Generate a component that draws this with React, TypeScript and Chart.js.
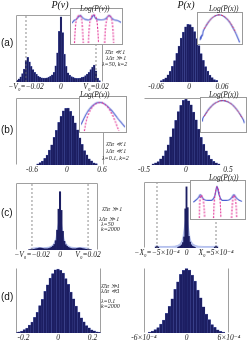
import React, { useEffect, useRef } from "react";
import { Chart, registerables } from "chart.js";
Chart.register(...registerables);

const SERIF = "'Liberation Serif','DejaVu Serif',serif";
const SANS = "'Liberation Sans','DejaVu Sans',sans-serif";
const NAVY = "#1c1e62";
const EDGE = "#5563b5";
const FRAME = "#a0a0a0";
const BLUE = "#4a5fd0";
const MAGENTA = "#e0208c";
const RED = "#e02050";

// ---------- (a) left : P(v), lambda=50, k=2 ----------
const aLeftStart = -0.025;
const aLeftStep = 0.001;
const aLeftValues = [3, 5, 8, 13, 20, 33, 38, 31, 24, 19, 15, 12, 9, 7.5, 6.5, 6, 6, 6.5, 7.5, 9, 11, 15, 25, 45, 78, 100, 76, 43, 24, 14, 10.5, 8.5, 7, 6, 5.5, 5.5, 6, 7, 8, 10, 12, 15, 19, 23, 26, 17, 6, 2];
const aLeftTicks = [-0.02, 0, 0.02];
const aLeftTickLabels = ["−V₀=−0.02", "0", "V₀=0.02"];
const aLeftDashed = [-0.02, 0.02];

// ---------- (a) right : P(x) ----------
const aRightStart = -0.05;
const aRightStep = 0.004;
const aRightValues = [2.5, 4.6, 7.4, 12.3, 18.2, 27.1, 36.8, 49.6, 61.8, 75.5, 85.9, 95.2, 99.6, 98.9, 94.6, 86.8, 74.7, 62.6, 48.9, 37.5, 26.4, 18.8, 11.9, 7.8, 4.3, 2.7];
const aRightTicks = [-0.06, 0, 0.06];
const aRightTickLabels = ["-0.06", "0", "0.06"];

// ---------- (b) left ----------
const bLeftStart = -0.5;
const bLeftStep = 0.04;
const bLeftValues = [2.1, 4.3, 6.8, 11.6, 17.2, 26.1, 35.4, 48.7, 60.8, 74.9, 85.3, 95.1, 99.2, 99.7, 94.2, 86.4, 73.8, 61.7, 47.6, 36.3, 25.2, 17.8, 10.9, 7.2, 3.9, 2.4];
const bLeftTicks = [-0.6, 0, 0.6];
const bLeftTickLabels = ["-0.6", "0", "0.6"];

// ---------- (b) right ----------
const bRightStart = -0.39;
const bRightStep = 0.03;
const bRightValues = [1.6, 3.4, 5.3, 9.4, 14.0, 21.9, 30.5, 42.6, 55.3, 67.6, 81.0, 90.3, 97.9, 100, 97.2, 91.1, 80.2, 68.5, 54.6, 42.0, 31.2, 21.3, 14.6, 8.9, 5.7, 3.1, 1.8];
const bRightTicks = [-0.5, 0, 0.5];
const bRightTickLabels = ["-0.5", "0", "0.5"];

// ---------- (c) left ----------
const cLeftStart = -0.022;
const cLeftStep = 0.001;
const cLeftValues = [0.5, 0.8, 1.0, 1.2, 1.5, 2.0, 2.6, 3.2, 3.5, 3.0, 2.4, 2.0, 1.8, 2.0, 2.6, 3.4, 4.8, 6.5, 9.5, 16, 34, 70, 100, 68, 32, 15, 9, 6.2, 4.5, 3.3, 2.5, 2.0, 1.8, 2.0, 2.5, 3.1, 3.4, 3.0, 2.5, 1.9, 1.5, 1.2, 1.0, 0.7, 0.4];
const cLeftEnvX = [-0.021, -0.016, -0.012, -0.008, -0.005, -0.003, -0.0015, 0, 0.0015, 0.003, 0.005, 0.008, 0.012, 0.016, 0.021];
const cLeftEnvY = [3, 4.5, 4, 5, 9, 20, 42, 55, 40, 19, 9, 5, 4, 4.5, 3];
const cLeftTicks = [-0.02, 0, 0.02];
const cLeftTickLabels = ["−V₀=−0.02", "0", "V₀=0.02"];
const cLeftDashed = [-0.02, 0.02];

// ---------- (c) right ----------
const cRightX = [-5.2e-4, -5.0e-4, -4.8e-4, -1.4e-4, -1.2e-4, -1.0e-4, -8e-5, -6e-5, -4e-5, -2e-5, 0, 2e-5, 4e-5, 6e-5, 8e-5, 1.0e-4, 1.2e-4, 1.4e-4, 4.8e-4, 5.0e-4, 5.2e-4];
const cRightValues = [1.5, 3, 1.5, 1.3, 2.1, 3.2, 5.0, 9.0, 18, 64, 100, 66, 19, 9.5, 5.2, 3.0, 2.0, 1.2, 1.5, 3, 1.5];
const cRightEnvX = [-5.4e-4, -4e-4, -2e-4, -1.2e-4, -7e-5, -3.5e-5, 0, 3.5e-5, 7e-5, 1.2e-4, 2e-4, 4e-4, 5.4e-4];
const cRightEnvY = [3, 2.5, 3, 6, 14, 35, 50, 33, 13, 6, 3, 2.5, 3];
const cRightTicks = [-5e-4, 0, 5e-4];
const cRightTickLabels = ["−X₀=−5×10⁻⁴", "0", "X₀=5×10⁻⁴"];
const cRightDashed = [-5e-4, 5e-4];

// ---------- (d) left ----------
const dLeftStart = -0.24;
const dLeftStep = 0.015;
const dLeftValues = [1.0, 2.0, 3.1, 5.3, 7.8, 12.2, 16.9, 24.4, 32.1, 42.8, 52.6, 64.9, 75.1, 85.8, 92.7, 98.6, 100, 98.0, 93.5, 85.1, 75.9, 63.8, 53.4, 41.9, 32.8, 23.8, 17.5, 11.6, 8.2, 4.9, 3.3, 1.8, 1.2];
const dLeftTicks = [-0.2, 0, 0.2];
const dLeftTickLabels = ["-0.2", "0", "0.2"];

// ---------- (d) right ----------
const dRightStart = -5.2e-4;
const dRightStep = 4e-5;
const dRightValues = [1.4, 3.0, 5.2, 8.3, 13.8, 20.1, 30.4, 41.6, 53.2, 67.9, 79.4, 91.2, 97.3, 100, 97.8, 90.1, 80.6, 66.8, 54.5, 40.7, 29.5, 21.0, 13.2, 8.7, 4.8, 2.7, 1.6];
const dRightTicks = [-6e-4, 0, 6e-4];
const dRightTickLabels = ["-6×10⁻⁴", "0", "6×10⁻⁴"];

// ---------- insets ----------
const aLeftInBlueX = [-1, -0.92, -0.84, -0.76, -0.66, -0.56, -0.45, -0.3, -0.2, -0.12, -0.04, 0.06, 0.2, 0.34, 0.44, 0.52, 0.6, 0.72, 0.86, 1];
const aLeftInBlueY = [0.6, 0.68, 0.71, 0.77, 0.84, 0.76, 0.71, 0.7, 0.75, 0.85, 0.75, 0.71, 0.7, 0.72, 0.79, 0.84, 0.77, 0.7, 0.68, 0.62];
const aLeftInMagX = [-0.9, -0.86, -0.8, -0.7, -0.62, -0.58, -0.54, -0.54, -0.33, -0.29, -0.22, -0.12, -0.02, 0.04, 0.08, 0.08, 0.33, 0.37, 0.44, 0.52, 0.6, 0.66, 0.7];
const aLeftInMagY = [0, 0.5, 0.76, 0.84, 0.76, 0.5, 0, null, 0, 0.5, 0.78, 0.86, 0.78, 0.5, 0, null, 0, 0.5, 0.76, 0.84, 0.76, 0.5, 0];

const aRightInBlueX = [-0.95, -0.92, -0.9, -0.87, -0.84, -0.8, -0.7, -0.55, -0.4, -0.25, -0.1, 0, 0.1, 0.25, 0.4, 0.55, 0.7, 0.8, 0.88, 0.93];
const aRightInBlueY = [0.1, 0.22, 0.16, 0.27, 0.25, 0.41, 0.55, 0.72, 0.85, 0.93, 0.967, 0.967, 0.95, 0.88, 0.77, 0.61, 0.41, 0.26, 0.12, 0.02];
const aRightInRedX = [-0.75, -0.6, -0.45, -0.3, -0.15, 0, 0.15, 0.3, 0.45, 0.6, 0.75];
const aRightInRedY = [0.49, 0.67, 0.81, 0.91, 0.96, 0.97, 0.94, 0.86, 0.74, 0.57, 0.36];

const bLeftInBlueX = [-1, -0.85, -0.7, -0.55, -0.4, -0.25, -0.1, 0.05, 0.2, 0.35, 0.5, 0.65, 0.8, 0.95, 1];
const bLeftInBlueY = [0.19, 0.41, 0.585, 0.72, 0.81, 0.86, 0.868, 0.83, 0.755, 0.65, 0.53, 0.4, 0.28, 0.16, 0.12];
const bLeftInMagX = [-0.85, -0.78, -0.7, -0.55, -0.4, -0.25, -0.1, 0.05, 0.2, 0.35, 0.5, 0.62, 0.72];
const bLeftInMagY = [0, 0.25, 0.45, 0.66, 0.79, 0.85, 0.86, 0.82, 0.73, 0.58, 0.38, 0.18, 0];

const bRightInBlueX = [-0.98, -0.96, -0.85, -0.7, -0.55, -0.4, -0.25, -0.1, 0.05, 0.2, 0.35, 0.5, 0.65, 0.8, 0.92, 0.97];
const bRightInBlueY = [0.3, 0.4, 0.52, 0.67, 0.78, 0.87, 0.92, 0.95, 0.945, 0.91, 0.85, 0.76, 0.64, 0.49, 0.35, 0.25];
const bRightInRedX = [-0.9, -0.75, -0.6, -0.45, -0.3, -0.15, 0, 0.15, 0.3, 0.45, 0.6, 0.75, 0.9];
const bRightInRedY = [0.46, 0.61, 0.74, 0.84, 0.9, 0.94, 0.95, 0.93, 0.87, 0.79, 0.68, 0.54, 0.38];

const cRightInBlueX = [-0.95, -0.85, -0.76, -0.68, -0.6, -0.5, -0.35, -0.22, -0.12, -0.04, 0.04, 0.14, 0.28, 0.42, 0.52, 0.61, 0.7, 0.8, 0.92];
const cRightInBlueY = [0.44, 0.5, 0.56, 0.65, 0.56, 0.5, 0.49, 0.5, 0.62, 0.88, 0.64, 0.5, 0.49, 0.5, 0.56, 0.65, 0.56, 0.5, 0.46];
const cRightInMagX = [-0.72, -0.7, -0.66, -0.6, -0.55, -0.51, -0.51, -0.17, -0.13, -0.04, 0.04, 0.08, 0.11, 0.11, 0.52, 0.56, 0.61, 0.67, 0.7, 0.72];
const cRightInMagY = [0, 0.45, 0.63, 0.58, 0.4, 0, null, 0, 0.55, 0.86, 0.72, 0.45, 0, null, 0, 0.45, 0.63, 0.5, 0.3, 0];

// ---------- texts ----------
const panelLetters = [
  { t: "(a)", top: 37 },
  { t: "(b)", top: 124 },
  { t: "(c)", top: 207 },
  { t: "(d)", top: 291 },
];
const noteLines = [
  { t: "λ̄Δτ ≪ 1", l: 105, top: 49 },
  { t: "λΔτ ≫ 1", l: 106, top: 55 },
  { t: "λ=50, k=2", l: 102, top: 61 },
  { t: "λ̄Δτ ≪ 1", l: 106, top: 141 },
  { t: "λΔτ ≪ 1", l: 106, top: 148 },
  { t: "λ=0.1, k=2", l: 102, top: 155 },
  { t: "λ̄Δτ ≫ 1", l: 102, top: 206 },
  { t: "λΔτ ≫ 1", l: 99, top: 216 },
  { t: "λ=50", l: 101, top: 221 },
  { t: "k=2000", l: 101, top: 226 },
  { t: "λ̄Δτ ≫1", l: 101, top: 283 },
  { t: "λΔτ ≪1", l: 101, top: 288 },
  { t: "λ=0.1", l: 101, top: 298 },
  { t: "k=2000", l: 101, top: 303 },
];
const insetTitles = [
  { t: "Log(P(v))", l: 80, top: 4 },
  { t: "Log(P(x))", l: 209, top: 4 },
  { t: "Log(P(v))", l: 80, top: 90 },
  { t: "Log(P(x))", l: 209, top: 90 },
  { t: "Log(P(x))", l: 209, top: 173 },
];

// ---------- helpers ----------
const toBars = (start: number, step: number, vals: number[]) => vals.map((v, i) => ({ x: start + i * step, y: v }));
const zipXY = (xs: number[], ys: (number | null)[]) => xs.map((x, i) => ({ x, y: ys[i] }));

const boxFrame = {
  id: "boxFrame",
  afterDraw(chart: any, _a: any, opts: any) {
    const sides: string = opts && opts.sides ? opts.sides : "";
    if (!sides) return;
    const { left, right, top, bottom } = chart.chartArea;
    const ctx = chart.ctx;
    ctx.save();
    ctx.strokeStyle = FRAME;
    ctx.lineWidth = 1;
    ctx.beginPath();
    const L = Math.round(left) + 0.5, R = Math.round(right) - 0.5, T = Math.round(top) + 0.5, B = Math.round(bottom) - 0.5;
    if (sides.includes("t")) { ctx.moveTo(L, T); ctx.lineTo(R, T); }
    if (sides.includes("l")) { ctx.moveTo(L, T); ctx.lineTo(L, B); }
    if (sides.includes("r")) { ctx.moveTo(R, T); ctx.lineTo(R, B); }
    ctx.stroke();
    ctx.restore();
  },
};

const PADX = 24;
const PADT = 2;
const AXH = 11;

type Panel = {
  boxL: number; boxT: number; boxW: number; boxH: number;
  xMin: number; xMax: number; yMax: number;
  ticks: number[]; labels: string[];
  bars: { x: number; y: number }[];
  dashed?: number[];
  env?: { x: number; y: number }[];
  sides: string;
  bw?: any;
};

function mainConfig(p: Panel): any {
  const datasets: any[] = [
    {
      type: "bar",
      data: p.bars,
      backgroundColor: NAVY,
      borderColor: EDGE,
      borderWidth: p.bw !== undefined ? p.bw : { left: 0.25, right: 0.25, top: 0.5, bottom: 0 },
      barPercentage: 1,
      categoryPercentage: 1,
      order: 2,
    },
  ];
  if (p.env) {
    datasets.push({
      type: "line",
      data: p.env,
      fill: "origin",
      backgroundColor: "rgba(140,160,232,0.55)",
      borderColor: "rgba(120,140,220,0.7)",
      borderWidth: 0.6,
      pointRadius: 0,
      tension: 0.3,
      order: 3,
    });
  }
  (p.dashed || []).forEach((v) => {
    datasets.push({
      type: "line",
      data: [{ x: v, y: 0 }, { x: v, y: p.yMax }],
      borderColor: "#707070",
      borderWidth: 0.8,
      borderDash: [2, 2],
      pointRadius: 0,
      order: 0,
    });
  });
  return {
    type: "bar",
    data: { datasets },
    plugins: [boxFrame],
    options: {
      animation: false,
      responsive: false,
      maintainAspectRatio: false,
      layout: { padding: { left: PADX, right: PADX, top: PADT, bottom: 0 } },
      plugins: { legend: { display: false }, tooltip: { enabled: false }, boxFrame: { sides: p.sides } },
      scales: {
        x: {
          type: "linear",
          min: p.xMin,
          max: p.xMax,
          offset: false,
          grid: { display: false, drawTicks: false },
          border: { display: false },
          afterBuildTicks: (ax: any) => { ax.ticks = p.ticks.map((v) => ({ value: v })); },
          ticks: {
            autoSkip: false,
            maxRotation: 0,
            padding: 1,
            color: "#222",
            font: { family: SERIF, size: 7.5, style: "italic" },
            callback: (_v: any, i: number) => p.labels[i],
          },
        },
        y: { display: false, min: 0, max: p.yMax },
      },
    },
  };
}

type Line = { xs: number[]; ys: (number | null)[]; color: string; dash?: number[]; width: number };

function insetConfig(lines: Line[]): any {
  return {
    type: "line",
    data: {
      datasets: lines.map((ln, i) => ({
        data: zipXY(ln.xs, ln.ys),
        borderColor: ln.color,
        borderWidth: ln.width,
        borderDash: ln.dash || [],
        pointRadius: 0,
        tension: 0.35,
        spanGaps: false,
        order: i === 0 ? 1 : 0,
      })),
    },
    options: {
      animation: false,
      responsive: false,
      maintainAspectRatio: false,
      layout: { padding: 1 },
      plugins: { legend: { display: false }, tooltip: { enabled: false } },
      scales: {
        x: { type: "linear", min: -1, max: 1, display: false },
        y: { min: 0, max: 1, display: false },
      },
    },
  };
}

function ChartCanvas({ cfg, left, top, w, h, boxed }: { cfg: any; left: number; top: number; w: number; h: number; boxed?: boolean }) {
  const ref = useRef<HTMLCanvasElement>(null);
  useEffect(() => {
    const c = new Chart(ref.current as HTMLCanvasElement, cfg);
    return () => c.destroy();
  }, []);
  const style: any = { position: "absolute", left, top, width: w, height: h };
  if (boxed) { style.border = "1px solid #9a9a9a"; style.background = "#fff"; }
  return <canvas ref={ref} width={w} height={h} style={style} />;
}

function MainPanel({ p }: { p: Panel }) {
  const cfg = mainConfig(p);
  return <ChartCanvas cfg={cfg} left={p.boxL - PADX} top={p.boxT - PADT} w={p.boxW + 2 * PADX} h={p.boxH + PADT + AXH} />;
}

const panels: Panel[] = [
  { boxL: 16, boxT: 15, boxW: 87, boxH: 67, xMin: -0.02571, xMax: 0.024, yMax: 103, ticks: aLeftTicks, labels: aLeftTickLabels, bars: toBars(aLeftStart, aLeftStep, aLeftValues), dashed: aLeftDashed, sides: "ltr" },
  { boxL: 144, boxT: 15, boxW: 85, boxH: 67, xMin: -0.0818, xMax: 0.0727, yMax: 115.5, ticks: aRightTicks, labels: aRightTickLabels, bars: toBars(aRightStart, aRightStep, aRightValues), sides: "" },
  { boxL: 16, boxT: 98, boxW: 88, boxH: 67, xMin: -0.875, xMax: 0.635, yMax: 117.5, ticks: bLeftTicks, labels: bLeftTickLabels, bars: toBars(bLeftStart, bLeftStep, bLeftValues), sides: "ltr" },
  { boxL: 144, boxT: 98, boxW: 85, boxH: 67, xMin: -0.5, xMax: 0.512, yMax: 101.5, ticks: bRightTicks, labels: bRightTickLabels, bars: toBars(bRightStart, bRightStep, bRightValues), sides: "t" },
  { boxL: 16, boxT: 183, boxW: 82, boxH: 67, xMin: -0.0314, xMax: 0.0271, yMax: 115, ticks: cLeftTicks, labels: cLeftTickLabels, bars: toBars(cLeftStart, cLeftStep, cLeftValues), dashed: cLeftDashed, env: zipXY(cLeftEnvX, cLeftEnvY) as any, sides: "ltr", bw: 0 },
  { boxL: 144, boxT: 182, boxW: 85, boxH: 66, xMin: -7.2e-4, xMax: 7.2e-4, yMax: 108, ticks: cRightTicks, labels: cRightTickLabels, bars: zipXY(cRightX, cRightValues) as any, dashed: cRightDashed, env: zipXY(cRightEnvX, cRightEnvY) as any, sides: "lt", bw: 0 },
  { boxL: 16, boxT: 268, boxW: 85, boxH: 65, xMin: -0.2435, xMax: 0.249, yMax: 101.5, ticks: dLeftTicks, labels: dLeftTickLabels, bars: toBars(dLeftStart, dLeftStep, dLeftValues), sides: "lr" },
  { boxL: 144, boxT: 268, boxW: 85, boxH: 65, xMin: -6e-4, xMax: 6e-4, yMax: 101, ticks: dRightTicks, labels: dRightTickLabels, bars: toBars(dRightStart, dRightStep, dRightValues), sides: "lr" },
];

const insets = [
  { l: 70, t: 8, w: 53, h: 37, lines: [
    { xs: aLeftInBlueX, ys: aLeftInBlueY, color: BLUE, width: 1.2 },
    { xs: aLeftInMagX, ys: aLeftInMagY, color: MAGENTA, width: 1.1, dash: [2, 1.5] },
  ] },
  { l: 197, t: 12, w: 46, h: 33, lines: [
    { xs: aRightInBlueX, ys: aRightInBlueY, color: BLUE, width: 1.2 },
    { xs: aRightInRedX, ys: aRightInRedY, color: RED, width: 1, dash: [2, 1.5] },
  ] },
  { l: 79, t: 96, w: 48, h: 37, lines: [
    { xs: bLeftInBlueX, ys: bLeftInBlueY, color: BLUE, width: 1.2 },
    { xs: bLeftInMagX, ys: bLeftInMagY, color: MAGENTA, width: 1.1, dash: [2, 1.5] },
  ] },
  { l: 200, t: 97, w: 47, h: 36, lines: [
    { xs: bRightInBlueX, ys: bRightInBlueY, color: BLUE, width: 1.2 },
    { xs: bRightInRedX, ys: bRightInRedY, color: RED, width: 1, dash: [2, 1.5] },
  ] },
  { l: 190, t: 180, w: 56, h: 40, lines: [
    { xs: cRightInBlueX, ys: cRightInBlueY, color: BLUE, width: 1.2 },
    { xs: cRightInMagX, ys: cRightInMagY, color: MAGENTA, width: 1.1, dash: [2, 1.5] },
  ] },
];

export default function App() {
  return (
    <div style={{ position: "fixed", left: 0, top: 0, width: 249, height: 342, background: "#fff", overflow: "hidden" }}>
      {panels.map((p, i) => <MainPanel key={"p" + i} p={p} />)}
      {insets.map((s, i) => <ChartCanvas key={"i" + i} cfg={insetConfig(s.lines)} left={s.l} top={s.t} w={s.w} h={s.h} boxed />)}
      <div style={{ position: "absolute", left: 40, top: -1, width: 40, textAlign: "center", font: `italic 10px ${SERIF}`, color: "#111" }}>P(v)</div>
      <div style={{ position: "absolute", left: 166, top: -1, width: 40, textAlign: "center", font: `italic 10px ${SERIF}`, color: "#111" }}>P(x)</div>
      {panelLetters.map((p, i) => (
        <div key={"l" + i} style={{ position: "absolute", left: 1, top: p.top, font: `10px ${SANS}`, color: "#111" }}>{p.t}</div>
      ))}
      {noteLines.map((n, i) => (
        <div key={"n" + i} style={{ position: "absolute", left: n.l, top: n.top, font: `italic 6px ${SERIF}`, lineHeight: "7px", whiteSpace: "nowrap", color: "#222" }}>{n.t}</div>
      ))}
      {insetTitles.map((n, i) => (
        <div key={"t" + i} style={{ position: "absolute", left: n.l, top: n.top, font: `italic 7.5px ${SERIF}`, lineHeight: "9px", whiteSpace: "nowrap", color: "#222" }}>{n.t}</div>
      ))}
    </div>
  );
}
